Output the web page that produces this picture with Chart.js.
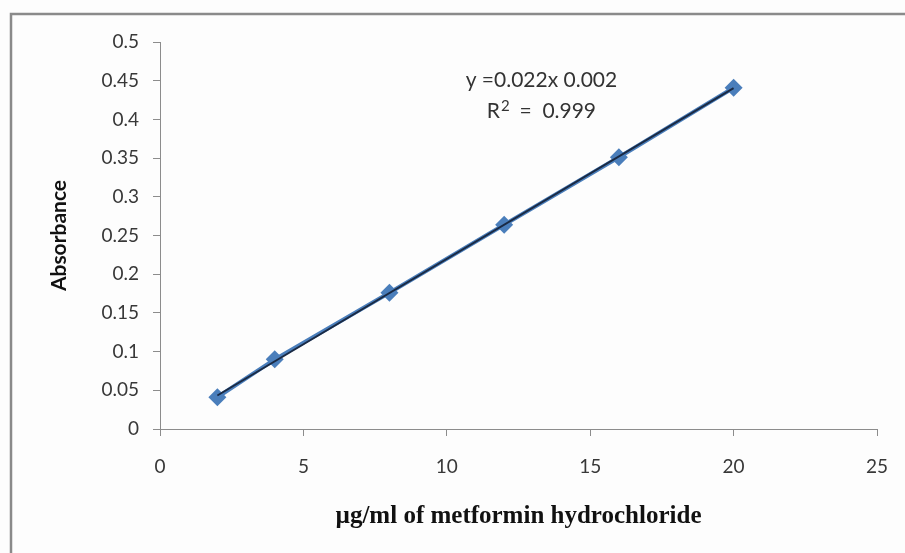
<!DOCTYPE html>
<html>
<head>
<meta charset="utf-8">
<script src="https://cdn.jsdelivr.net/npm/chart.js@4.4.0/dist/chart.umd.min.js"></script>
<style>
    html, body { margin: 0; padding: 0; background: #ffffff; }
    #wrap { width: 905px; height: 553px; position: relative; }
</style>
</head>
<body>
<div id="wrap"><canvas id="calChart" width="905" height="553"></canvas></div>
<script>
// Calibration data
const concentrations = [2, 4, 8, 12, 16, 20];
const absorbances = [0.041, 0.090, 0.176, 0.264, 0.351, 0.441];
const xTickLabels = ['0', '5', '10', '15', '20', '25'];
const yTickLabels = ['0', '0.05', '0.1', '0.15', '0.2', '0.25', '0.3', '0.35', '0.4', '0.45', '0.5'];
const equationText = 'y =0.022x 0.002';
const rSquaredText = ['R', '2', '  =  0.999'];

// least squares trendline through the measured points
function fitLine(xs, ys) {
    const n = xs.length;
    const mx = xs.reduce((a, b) => a + b, 0) / n;
    const my = ys.reduce((a, b) => a + b, 0) / n;
    let sxy = 0, sxx = 0;
    for (let i = 0; i < n; i++) {
        sxy += (xs[i] - mx) * (ys[i] - my);
        sxx += (xs[i] - mx) * (xs[i] - mx);
    }
    const slope = sxy / sxx;
    return { slope: slope, intercept: my - slope * mx };
}

const fit = fitLine(concentrations, absorbances);
const xFirst = concentrations[0];
const xLast = concentrations[concentrations.length - 1];
const trendPoints = [
    { x: xFirst, y: fit.slope * xFirst + fit.intercept },
    { x: xLast, y: fit.slope * xLast + fit.intercept }
];
const dataPoints = concentrations.map((c, i) => ({ x: c, y: absorbances[i] }));

// outer frame, only the left and top edges show in the picture
const framePlugin = {
    id: 'frame',
    beforeDraw(chart) {
        const c = chart.ctx;
        c.save();
        c.fillStyle = '#fdfdfd';
        c.fillRect(0, 0, chart.width, chart.height);
        c.strokeStyle = '#8a8a8a';
        c.lineWidth = 2.5;
        c.beginPath();
        c.moveTo(11, chart.height);
        c.lineTo(11, 14);
        c.lineTo(chart.width, 14);
        c.stroke();
        c.restore();
    }
};

// equation label, anchored in data units
const equationPlugin = {
    id: 'equation',
    afterDatasetsDraw(chart) {
        const c = chart.ctx;
        const xs = chart.scales.x, ys = chart.scales.y;
        const cx = xs.getPixelForValue(13.3);
        const big = '21px Lato, "Open Sans", sans-serif';
        const small = '15px Lato, "Open Sans", sans-serif';
        c.save();
        c.fillStyle = '#333333';
        c.textBaseline = 'middle';
        c.font = big;
        c.textAlign = 'center';
        c.fillText(equationText, cx, ys.getPixelForValue(0.451));

        // second line: R with a raised 2, then the value
        const y2 = ys.getPixelForValue(0.410);
        c.textAlign = 'left';
        const wR = c.measureText(rSquaredText[0]).width;
        const wRest = c.measureText(rSquaredText[2]).width;
        c.font = small;
        const w2 = c.measureText(rSquaredText[1]).width;
        let x = cx - (wR + w2 + wRest) / 2;
        c.font = big;
        c.fillText(rSquaredText[0], x, y2);
        x += wR;
        c.font = small;
        c.fillText(rSquaredText[1], x + 1, y2 - 6);
        x += w2;
        c.font = big;
        c.fillText(rSquaredText[2], x, y2);
        c.restore();
    }
};

const tickFont = { family: 'Lato, "Open Sans", sans-serif', size: 19 };

new Chart(document.getElementById('calChart'), {
    type: 'scatter',
    data: {
        datasets: [{
            label: 'Trendline',
            data: trendPoints,
            showLine: true,
            borderColor: '#1a2a44',
            borderWidth: 2,
            pointRadius: 0,
            order: 0
        }, {
            label: 'Absorbance',
            data: dataPoints,
            showLine: true,
            borderColor: '#4a7ebb',
            borderWidth: 4,
            pointStyle: 'rectRot',
            pointRadius: 9,
            pointBackgroundColor: '#4a7ebb',
            pointBorderColor: '#4a7ebb',
            pointBorderWidth: 0,
            order: 1
        }]
    },
    options: {
        responsive: false,
        animation: false,
        layout: { padding: { top: 42, right: 28, left: 0, bottom: 0 } },
        plugins: {
            legend: { display: false },
            tooltip: { enabled: false }
        },
        scales: {
            x: {
                type: 'linear',
                min: 0,
                max: 25,
                afterFit: function(scale) {
                    scale.height = 124;
                    scale.paddingLeft = 0;
                    scale.paddingRight = 0;
                },
                ticks: {
                    stepSize: 5,
                    color: '#383838',
                    font: tickFont,
                    padding: 19,
                    maxRotation: 0,
                    callback: function(value) {
                        return xTickLabels[Math.round(value / 5)];
                    }
                },
                grid: {
                    drawOnChartArea: false,
                    color: '#8c8c8c',
                    tickLength: 7
                },
                border: { color: '#8c8c8c', width: 1 },
                title: {
                    display: true,
                    text: '\u00B5g/ml of metformin hydrochloride',
                    color: '#111111',
                    font: { family: '"Liberation Serif", "Times New Roman", serif', size: 25, weight: 'bold' },
                    padding: { top: 0, bottom: 21 }
                }
            },
            y: {
                type: 'linear',
                min: 0,
                max: 0.5,
                afterFit: function(scale) {
                    scale.width = 160;
                    scale.paddingTop = 0;
                    scale.paddingBottom = 0;
                },
                ticks: {
                    stepSize: 0.05,
                    color: '#383838',
                    font: tickFont,
                    padding: 14,
                    callback: function(value) {
                        return yTickLabels[Math.round(value / 0.05)];
                    }
                },
                grid: {
                    drawOnChartArea: false,
                    color: '#8c8c8c',
                    tickLength: 7
                },
                border: { color: '#8c8c8c', width: 1 },
                title: {
                    display: true,
                    text: 'Absorbance',
                    color: '#111111',
                    font: { family: 'Lato, "Open Sans", sans-serif', size: 21, weight: 'bold' },
                    padding: { top: 47, bottom: 0 }
                }
            }
        }
    },
    plugins: [framePlugin, equationPlugin]
});
</script>
</body>
</html>
